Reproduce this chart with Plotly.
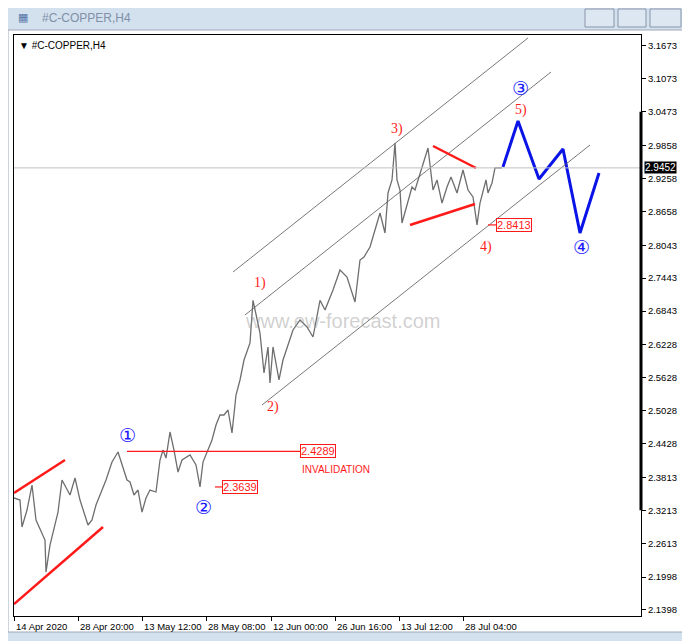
import plotly.graph_objects as go

# bar index (0 = 14 Apr 2020) and traced close prices
bars = [0, 6, 8, 13, 18, 22, 31, 32, 36, 44, 48, 56, 61, 66, 74, 78, 82, 86, 92, 98, 104, 113,
        116, 120, 124, 128, 132, 136, 142, 146, 149, 152, 156, 160, 164, 168, 176, 182, 186, 189,
        194, 198, 202, 206, 210, 214, 218, 222, 226, 230, 236, 239, 246, 250, 254, 256, 259, 265,
        269, 273, 279, 286, 293, 299, 306, 311, 319, 326, 333, 341, 346, 350, 356, 361, 366, 371,
        374, 378, 381, 383, 386, 388, 398, 401, 406, 414, 419, 423, 428, 433, 437, 443, 449, 454,
        459, 463, 466, 472, 474, 478, 481, 484, 488]
close = [2.3438, 2.3401, 2.2909, 2.3219, 2.3674, 2.3037, 2.2672, 2.2089, 2.2581, 2.3182, 2.3766,
         2.3492, 2.3802, 2.3401, 2.2946, 2.3037, 2.3310, 2.3492, 2.3766, 2.4093, 2.4276, 2.3766,
         2.3729, 2.3492, 2.3583, 2.3182, 2.3438, 2.3583, 2.3547, 2.4130, 2.4312, 2.4166, 2.4640,
         2.4312, 2.3911, 2.4130, 2.4221, 2.4039, 2.3639, 2.4093, 2.4312, 2.4494, 2.4768, 2.4950,
         2.4950, 2.5041, 2.4622, 2.5314, 2.5588, 2.5952, 2.6262, 2.7040, 2.6444, 2.5715, 2.6189,
         2.5533, 2.6189, 2.5588, 2.5952, 2.6189, 2.6499, 2.6681, 2.6553, 2.6371, 2.7040, 2.6863,
         2.7227, 2.7592, 2.7464, 2.7009, 2.7774, 2.7829, 2.8011, 2.8321, 2.8630, 2.8266, 2.8995,
         2.9232, 2.9906, 2.9232, 2.9049, 2.8448, 2.9104, 2.9049, 2.9359, 2.9815, 2.9049, 2.9232,
         2.8812, 2.9104, 2.9286, 2.8995, 2.9414, 2.9049, 2.8922, 2.8413, 2.8812, 2.9232, 2.8995,
         2.9177, 2.9452, 2.9452, 2.9452]
bars = bars[:len(close)]

# projected wave path
proj_bars = [489, 504, 525, 549, 566, 585]
proj_price = [2.9470, 3.0306, 2.9250, 2.9796, 2.8266, 2.9359]

last_price = 2.9452
ytick_vals = [3.1673, 3.1073, 3.0473, 2.9858, 2.9258, 2.8658, 2.8043, 2.7443, 2.6843, 2.6228,
              2.5628, 2.5028, 2.4428, 2.3813, 2.3213, 2.2613, 2.1998, 2.1398]
xtick_bars = [0, 64, 128, 192, 257, 321, 385, 449]
xtick_text = ["14 Apr 2020", "28 Apr 20:00", "13 May 12:00", "28 May 08:00", "12 Jun 00:00",
              "26 Jun 16:00", "13 Jul 12:00", "28 Jul 04:00"]

# channel lines (x0, y0, x1, y1)
gray_lines = [(219, 2.7555, 514, 3.1819), (231, 2.6772, 537, 3.1199), (248, 2.5132, 576, 2.9869)]
red_lines = [(0, 2.3529, 51, 2.4130), (0, 2.1506, 89, 2.2909),
             (419, 2.9851, 462, 2.9450), (396, 2.8412, 461, 2.8794),
             (113, 2.4289, 286, 2.4289), (201, 2.3639, 208, 2.3639), (474, 2.8413, 482, 2.8413)]

# page body adds an 8px offset, so the figure is 8px smaller
OFF = 8
W, H, L, R, T, B = 690 - OFF, 641 - OFF, 14 - OFF, 49, 35 - OFF, 25
def px(x):
    return (x - OFF - L) / (W - L - R)
def py(y):
    return (H - B - (y - OFF)) / (H - T - B)

fig = go.Figure()
fig.add_trace(go.Scatter(x=bars, y=close, mode="lines", line=dict(color="#6e6e6e", width=1.3),
                         hoverinfo="skip"))
fig.add_trace(go.Scatter(x=proj_bars, y=proj_price, mode="lines", line=dict(color="#0a14e6", width=3),
                         hoverinfo="skip"))

shapes = []
# window frame
shapes.append(dict(type="rect", xref="paper", yref="paper", x0=px(8), x1=px(683), y0=py(632), y1=py(30),
                   fillcolor="white", line=dict(color="#a0a8b8", width=1), layer="below"))
for bx0, bx1 in [(585, 614), (618, 646), (650, 681)]:
    shapes.append(dict(type="rect", xref="paper", yref="paper", x0=px(bx0), x1=px(bx1), y0=py(27), y1=py(9),
                       fillcolor="#dde7f2", line=dict(color="#8a96aa", width=1)))
for x0, y0, x1, y1 in gray_lines:
    shapes.append(dict(type="line", x0=x0, y0=y0, x1=x1, y1=y1, line=dict(color="#555", width=0.8)))
for x0, y0, x1, y1 in red_lines:
    w = 1.2 if y0 == y1 else 2.5
    shapes.append(dict(type="line", x0=x0, y0=y0, x1=x1, y1=y1, line=dict(color="#ff1a1a", width=w)))
shapes.append(dict(type="line", x0=0, x1=1, xref="paper", y0=last_price, y1=last_price,
                   line=dict(color="#c0c0c0", width=1)))
shapes.append(dict(type="line", xref="paper", x0=1.0, x1=1.0, y0=2.3213, y1=3.0473,
                   line=dict(color="black", width=3)))
fig.update_layout(shapes=shapes)

anns = []
def txt(x, y, s, color, size, font="Liberation Serif", **kw):
    anns.append(dict(x=x, y=y, text=s, showarrow=False, font=dict(color=color, size=size, family=font), **kw))

for x, y, s in [(113, 2.4585, "①"), (189, 2.3274, "②"), (506, 3.0908, "③"), (567, 2.8011, "④")]:
    txt(x, y, s, "#1a1aff", 19, "DejaVu Sans")
for x, y, s in [(246, 2.7355, "1)"), (259, 2.5096, "2)"), (383, 3.0161, "3)"), (472, 2.8011, "4)"), (507, 3.0507, "5)")]:
    txt(x, y, s, "#ff1a1a", 14)
txt(286, 2.3966, "INVALIDATION", "#ff1a1a", 10, "Liberation Sans", xanchor="left")
for x, y, s in [(286, 2.4289, "2.4289"), (208, 2.3639, "2.3639"), (482, 2.8413, "2.8413")]:
    txt(x, y, s, "#ff1a1a", 11, "Liberation Sans", xanchor="left", bordercolor="#ff1a1a",
        borderwidth=1, borderpad=0, bgcolor="white")
txt(329, 2.6662, "www.ew-forecast.com", "rgba(150,150,150,0.45)", 20, "Liberation Sans")
for b, s in zip(xtick_bars, xtick_text):
    anns.append(dict(x=b, y=0, yref="paper", yanchor="top", xanchor="left", text=s, showarrow=False,
                     yshift=-3, font=dict(size=9.5, color="black", family="Liberation Sans")))
anns.append(dict(x=1.0, y=last_price, xref="paper", xanchor="left", text="2.9452", showarrow=False,
                 bgcolor="black", font=dict(color="white", size=10, family="Liberation Sans"), borderpad=0, xshift=3))
anns.append(dict(x=0.005, y=0.995, xref="paper", yref="paper", xanchor="left", yanchor="top",
                 text="▼ #C-COPPER,H4", showarrow=False, font=dict(size=10, color="black", family="Liberation Sans")))
anns.append(dict(x=px(40), y=py(18), xref="paper", yref="paper", xanchor="left", yanchor="middle",
                 text="#C-COPPER,H4", showarrow=False, font=dict(size=12, color="#8090a8", family="Liberation Sans")))
anns.append(dict(x=px(30), y=py(18), xref="paper", yref="paper", text="▦", showarrow=False,
                 xanchor="right", yanchor="middle", font=dict(size=11, color="#5577aa", family="DejaVu Sans")))

fig.update_layout(
    annotations=anns,
    width=W, height=H,
    margin=dict(l=L, r=R, t=T, b=B, autoexpand=False),
    paper_bgcolor="#d3e0ee",
    plot_bgcolor="white",
    showlegend=False,
    xaxis=dict(range=[0, 627], showgrid=False, zeroline=False, tickvals=xtick_bars, showticklabels=False,
               ticks="outside", ticklen=4, tickcolor="black", showline=True, linecolor="black", mirror=True,
               automargin=False),
    yaxis=dict(range=[2.1288, 3.1873], side="right", showgrid=False, zeroline=False, tickvals=ytick_vals,
               ticktext=[f"{v:.4f}" for v in ytick_vals], ticks="outside", ticklen=4, tickcolor="black",
               showline=True, linecolor="black", mirror=True, automargin=False,
               tickfont=dict(size=9.5, color="black", family="Liberation Sans")),
)

fig.write_html("out.html")
